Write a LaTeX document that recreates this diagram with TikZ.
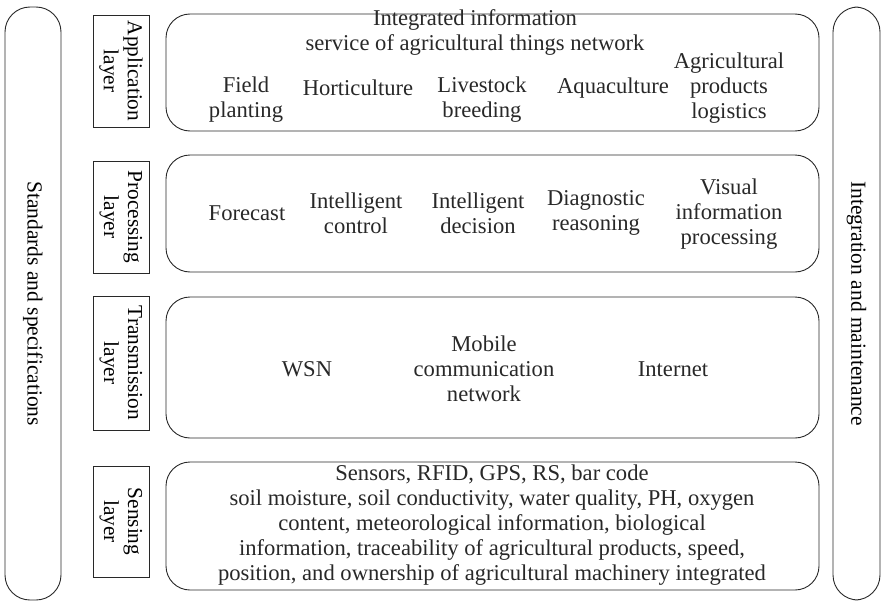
\documentclass[tikz,border=0pt]{standalone}
\usepackage{fontspec}
\setmainfont{Liberation Serif}
\usetikzlibrary{positioning}
\definecolor{LineGray}{RGB}{40,40,40}
\tikzset{
  side bar/.style={draw=LineGray, line width=0.9pt, rounded corners=25pt, rotate=-90,
    minimum width=593pt, inner sep=0pt, font=\fontsize{21.5}{25}\selectfont},
  layer tag/.style={draw=LineGray, line width=0.9pt, rotate=-90, align=center,
    inner sep=0pt, minimum height=56pt, font=\fontsize{21.3}{24}\selectfont},
  layer box/.style={draw=LineGray, line width=0.9pt, rounded corners=24pt,
    minimum width=653pt, inner sep=0pt},
  item/.style={align=center, inner sep=0pt, text=LineGray}
}
\begin{document}
\begin{tikzpicture}[x=1pt, y=-1pt, font=\fontsize{22.6}{25}\selectfont]
\useasboundingbox (0,0) rectangle (884,605);
% side bars
\node[side bar, minimum height=56pt] (std) at (33,303.5) {Standards and specifications};
\node[side bar, minimum height=47pt] (integ) at (856.5,303.5) {Integration and maintenance};
% layer tags
\node[layer tag, minimum width=112pt] (tagapp) at (121,71) {Application\\layer};
\node[layer tag, minimum width=112pt] (tagproc) at (121,217) {Processing\\layer};
\node[layer tag, minimum width=134pt] (tagtrans) at (121,363) {Transmission\\layer};
\node[layer tag, minimum width=111pt] (tagsens) at (121,521.5) {Sensing\\layer};
% layer boxes
\node[layer box, minimum height=117pt] (app) at (492.5,72.5) {};
\node[layer box, minimum height=117pt] (proc) at (492.5,213.5) {};
\node[layer box, minimum height=141pt] (trans) at (492.5,367.5) {};
\node[layer box, minimum height=128pt] (sens) at (492.5,526) {};
% application layer
\node[item] (service) at (475,32) {Integrated information\\service of agricultural things network};
\node[item] (field) at (246,100) {Field\\planting};
\node[item] (horti) at (358,88) {Horticulture};
\node[item] (live) at (482,100) {Livestock\\breeding};
\node[item] (aqua) at (613,88) {Aquaculture};
\node[item] (logi) at (729,88) {Agricultural\\products\\logistics};
% processing layer
\node[item] (fore) at (247,213) {Forecast};
\node[item] (ictrl) at (356,213) {Intelligent\\control};
\node[item] (idec) at (478,213) {Intelligent\\decision};
\node[item] (diag) at (596,213) {Diagnostic\\reasoning};
\node[item] (visual) at (729,214) {Visual\\information\\processing};
% transmission layer
\node[item] (wsn) at (307,369) {WSN};
\node[item] (mobile) at (484,369) {Mobile\\communication\\network};
\node[item] (inet) at (673,369) {Internet};
% sensing layer
\node[item] (sensdata) at (492,525) {Sensors, RFID, GPS, RS, bar code\\
  soil moisture, soil conductivity, water quality, PH, oxygen\\
  content, meteorological information, biological\\
  information, traceability of agricultural products, speed,\\
  position, and ownership of agricultural machinery integrated};
\end{tikzpicture}
\end{document}
